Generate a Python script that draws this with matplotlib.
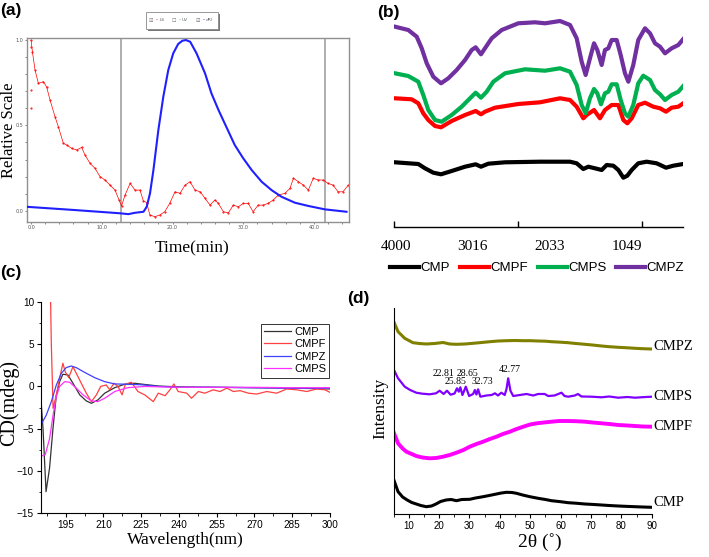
import matplotlib
matplotlib.use("Agg")
import matplotlib.pyplot as plt
from matplotlib.lines import Line2D
from matplotlib.patches import Rectangle

SERIF = "Liberation Serif"
SANS = "Liberation Sans"

# ---- (a) SEC-MALLS trace ----
ls_t = [0.0, 0.2, 0.57, 1.04, 1.74, 2.2, 2.69, 3.39, 3.86, 4.57, 5.04, 5.75, 6.46, 7.16, 7.63,
        8.34, 9.05, 9.75, 10.46, 11.17, 11.87, 12.44, 12.8, 13.29, 14.0, 14.7, 15.4, 15.87,
        16.35, 16.8, 17.5, 18.2, 18.9, 19.6, 20.35, 21.06, 21.77, 22.47, 23.18, 23.9, 24.6,
        25.3, 26.0, 26.47, 27.2, 27.9, 28.6, 29.3, 30.0, 30.7, 31.4, 32.1, 32.8, 33.5, 34.25,
        34.96, 35.9, 36.6, 37.1, 37.8, 38.5, 39.2, 39.9, 40.6, 41.3, 42.0, 42.7, 43.4, 44.1, 44.85]
ls_v = [1.0, 0.93, 0.824, 0.746, 0.756, 0.726, 0.648, 0.551, 0.492, 0.395, 0.385, 0.365, 0.356,
        0.371, 0.326, 0.278, 0.248, 0.2, 0.18, 0.15, 0.121, 0.063, 0.028, 0.092, 0.16, 0.121,
        0.121, 0.059, 0.047, -0.025, -0.035, -0.025, -0.006, 0.043, 0.111, 0.102, 0.15, 0.17,
        0.121, 0.111, 0.073, 0.033, 0.063, 0.043, -0.006, -0.012, 0.033, 0.023, 0.043, 0.043,
        -0.006, 0.033, 0.033, 0.043, 0.063, 0.092, 0.102, 0.131, 0.19, 0.17, 0.15, 0.121, 0.19,
        0.18, 0.18, 0.16, 0.15, 0.111, 0.111, 0.15]
ls_out_t = [0.0, 0.02, 0.05]
ls_out_v = [0.6, 0.71, 0.96]
dri_t = [-0.6, 6.2, 12.6, 13.75, 14.7, 15.9, 16.35, 16.82, 17.3, 18.0, 18.7, 19.4, 20.1, 20.8,
         21.4, 21.9, 22.5, 23.4, 24.6, 25.5, 26.5, 27.7, 28.8, 30.0, 31.2, 32.6, 34.0, 35.4,
         37.3, 39.2, 41.55, 44.6]
dri_v = [0.023, 0.004, -0.015, -0.02, -0.012, -0.006, 0.023, 0.102, 0.238, 0.473, 0.668, 0.824,
         0.922, 0.977, 0.996, 1.0, 0.99, 0.922, 0.805, 0.688, 0.59, 0.483, 0.385, 0.307, 0.238,
         0.17, 0.121, 0.082, 0.047, 0.028, 0.008, -0.006]
cut_lines = [12.76, 41.55]

# ---- (b) FT-IR ----
ir_ticks = [4000, 3016, 2033, 1049]
cmpz_w = [4013, 3843, 3735, 3671, 3607, 3523, 3424, 3331, 3224, 3117, 3032, 2981, 2913, 2862,
          2776, 2648, 2436, 2222, 2094, 1902, 1774, 1689, 1625, 1574, 1519, 1467, 1425, 1369,
          1327, 1284, 1241, 1177, 1126, 1071, 1028, 965, 901, 815, 751, 687, 623, 559, 474, 389, 325]
cmpz_v = [200.3, 197, 190.3, 178.7, 163.7, 150.3, 143.7, 148.7, 157, 167, 177, 179.7, 172.7,
          178.7, 188.7, 197, 203.7, 204.7, 203.7, 206, 202, 188.7, 165.3, 152, 168.7, 183.7, 177,
          162, 177, 178.7, 187, 187, 172, 153.7, 145.3, 162, 187, 198.7, 193.7, 183.7, 180.3,
          173.7, 178.7, 182, 188]
cmps_w = [4013, 3843, 3715, 3651, 3587, 3501, 3416, 3288, 3160, 3053, 2981, 2913, 2840, 2755,
          2606, 2350, 2094, 1902, 1774, 1689, 1625, 1574, 1519, 1467, 1425, 1378, 1327, 1284,
          1241, 1177, 1126, 1071, 1028, 965, 901, 837, 751, 687, 623, 559, 474, 389, 325]
cmps_v = [153.7, 151, 145.3, 132, 117, 107, 105.3, 112, 120.3, 128.7, 134.3, 129.3, 135.3,
          145.3, 153.7, 157.7, 156.3, 158.7, 155.3, 142, 122, 113.7, 128.7, 138, 133.7, 122.7,
          133.7, 135.3, 142.7, 142.7, 127, 113.7, 110.3, 122, 143.7, 151.3, 147, 137, 132.7,
          127, 132, 135.3, 141]
cmpf_w = [4013, 3800, 3715, 3651, 3587, 3501, 3424, 3288, 3117, 2981, 2913, 2862, 2734, 2436,
          2158, 1902, 1774, 1689, 1604, 1561, 1467, 1391, 1327, 1241, 1156, 1092, 1041, 985,
          901, 815, 709, 623, 546, 474, 389, 325]
cmpf_v = [128.7, 127.7, 123.7, 113.7, 107, 101, 99.7, 106, 112, 116, 112.7, 115.3, 119.3, 123,
          124.7, 128.7, 127, 120.3, 108.7, 112, 117, 108.7, 117, 122, 122, 107, 103.7, 108.7,
          122, 124.3, 120.3, 118.7, 115.3, 119.3, 120.3, 123.7]
cmp_w = [4013, 3715, 3629, 3523, 3424, 3288, 3117, 2981, 2913, 2819, 2606, 2158, 1774, 1689,
         1604, 1540, 1455, 1369, 1305, 1220, 1156, 1092, 1041, 985, 901, 794, 666, 546, 453, 325]
cmp_v = [64.7, 63, 58.7, 54.3, 52.7, 56, 60.3, 62.7, 60.3, 63.3, 64.7, 65.3, 65.3, 63.7, 58,
         60.3, 58.7, 57, 62, 61.3, 57, 49.3, 51.3, 57, 63.7, 65.3, 63.7, 59.3, 61.3, 63]

# ---- (c) CD spectra ----
cd_cmp_x = [185.1, 186.0, 187.2, 188.6, 189.95, 191.3, 192.6, 193.9, 195.9, 197.9, 200.6, 203.2,
            205.2, 207.8, 210.5, 214.5, 218.4, 222.4, 226, 232, 240, 255, 270, 285, 300]
cd_cmp_y = [-1.2, -5.0, -12.5, -9.7, -5.0, -1.0, 0.57, 1.45, 1.37, 0.38, -1.0, -1.72, -2.0,
            -1.6, -0.8, -0.14, 0.26, 0.38, 0.25, 0.05, -0.05, -0.1, -0.15, -0.2, -0.3]
cd_cmpf_x = [188.8, 189.3, 190.0, 191.3, 192.6, 193.9, 194.8, 196.2, 197.9, 199.2, 201.2, 203.2,
             205.2, 207.2, 208.9, 211.1, 212.5, 214.2, 215.8, 217.4, 218.7, 221.1, 223.7, 226.4,
             229.8, 231.8, 234.5, 236.4, 238.0, 239.7, 243.1, 245.0, 247.7, 250.3, 253.6, 256.3,
             259.0, 261.6, 264.3, 267.6, 270.9, 274.9, 278.8, 282.8, 286.8, 290.8, 294.7, 298.0,
             300]
cd_cmpf_y = [14, 5, -2.6, -1.0, 0.97, 2.76, 1.76, 1.05, 2.35, 1.57, 0.38, -0.8, -1.8, -1.0, 0.0,
             0.18, -0.4, 0.38, 0.0, -1.0, 0.26, 0.5, -0.6, -1.0, -1.8, -0.8, -1.1, -0.4, 0.3,
             -0.6, -0.8, -1.4, -0.6, -0.8, -0.4, -0.6, -0.2, -0.6, -0.5, -0.8, -0.9, -0.6, -0.8,
             -0.3, -0.4, -0.6, -0.3, -0.4, -0.7]
cd_cmpz_x = [185.1, 187.3, 189.3, 191.3, 193.3, 195.2, 197.2, 199.2, 202.5, 206.5, 210.5, 214.5,
             219.8, 225.0, 232, 240, 255, 270, 285, 300]
cd_cmpz_y = [-4.6, -3.4, -1.8, 0.18, 1.57, 2.24, 2.43, 2.24, 1.68, 1.05, 0.57, 0.3, 0.26, 0.2,
             0.0, -0.1, -0.1, -0.15, -0.2, -0.2]
cd_cmps_x = [185.1, 186.9, 188.6, 190.0, 191.3, 192.6, 194.6, 196.6, 199.2, 201.9, 205.2, 207.8,
             210.5, 214.5, 219.8, 226.4, 240, 255, 270, 285, 300]
cd_cmps_y = [-8.3, -8.1, -6.2, -3.4, -1.2, 0.0, 0.57, 0.5, -0.2, -1.0, -1.72, -1.8, -1.4, -0.6,
             -0.14, 0.0, -0.1, -0.1, -0.1, -0.15, -0.15]

# ---- (d) XRD ----
xz_x = [5, 6.5, 8.7, 11.4, 13.5, 15.8, 18.5, 21.3, 23.5, 25.7, 28.5, 31.2, 34, 36.7, 39.5, 42.2,
        45, 47.7, 50, 52.6, 55, 57, 60, 62.5, 65, 68, 70.5, 73.5, 76, 79, 82, 84.5, 87, 90]
xz_i = [193, 182.3, 175.7, 171.3, 170.5, 170, 170.5, 171.5, 170, 169.7, 170, 170.7, 171.5, 172.3,
        173, 173.3, 173.5, 173.3, 173.3, 173, 172.8, 172.3, 171.8, 171.3, 170.5, 169.7, 169, 168,
        167.3, 166.7, 166.2, 165.7, 165.3, 165]
xs_x = [5, 6.5, 8.7, 10.5, 12.5, 14.5, 16.9, 19.0, 20.2, 21.5, 22.6, 23.8, 25.1, 25.9, 26.5, 27.0,
        27.7, 28.8, 29.9, 31.2, 31.8, 32.3, 32.85, 33.6, 35.6, 37.3, 38.4, 39.4, 40.5, 41.6, 42.2,
        42.75, 43.5, 44.4, 46.6, 48.8, 51.0, 52.6, 54.8, 55.9, 58, 60.3, 61.3, 62.5, 64.7, 65.7,
        66.9, 70.2, 73.5, 76, 79.0, 82, 84.5, 87, 90]
xs_i = [145, 135.7, 127.3, 124, 121.3, 120.3, 119.7, 120.7, 123.3, 120, 123.3, 119.3, 120.5,
        125.7, 122.3, 126.7, 119, 127.3, 118, 120, 124, 119.5, 124.7, 117.3, 118.5, 119, 120.7,
        118.5, 121.3, 119, 125, 135.7, 123.3, 118, 119, 120, 118.5, 120, 120, 118, 118.5, 121.3,
        118, 117.3, 118.5, 120, 117.5, 117.3, 116.7, 117.5, 116.3, 117, 116.3, 116.8, 117.3]
xf_x = [5, 6.5, 8, 9.25, 11, 12.5, 14.5, 16.9, 19, 21.3, 23.5, 25.7, 28, 30.1, 32.3, 34.5, 36.7,
        38.9, 41, 43.3, 45.5, 47.7, 50, 52.1, 54.5, 57, 59.5, 62.5, 65, 68, 70.5, 73.5, 76, 79,
        82, 84.5, 87, 90]
xf_i = [82, 70.7, 65.5, 62.3, 60, 58, 56.5, 55.7, 56, 57.3, 59, 61.3, 64, 67.3, 70, 72.3, 75,
        77.3, 80, 82.3, 85, 87.3, 89.5, 90.7, 91.5, 92.3, 93, 93, 92.8, 92.3, 91.5, 90.7, 90, 89,
        88.5, 88, 87.5, 87.3]
xp_x = [5, 6.5, 8, 9.5, 11, 12.5, 14, 15.8, 17.5, 19, 20.5, 22.3, 24, 25.7, 27.5, 30.1, 32, 34.5,
        36.5, 38.9, 40.5, 42.2, 44, 45.5, 47.5, 49.9, 52.6, 55, 57, 60, 62.5, 65, 68, 71, 73.5,
        76, 79, 82, 84.5, 87, 90]
xp_i = [35, 22.3, 17, 14, 11.5, 10, 8.5, 7.3, 8, 10, 12.5, 14, 14.5, 13.3, 14.5, 14.7, 16, 17.3,
        18.5, 20, 21, 21.7, 21.5, 20.7, 19, 17.3, 15.7, 14.5, 13.3, 12.3, 11.3, 10.8, 10, 9.5, 9,
        8.5, 8, 7.6, 7.3, 7, 6.7]
peak_labels = ["22.81", "28.65", "25.85", "32.73", "42.77"]
peak_x = [21.5, 29.2, 25.5, 34.1, 43.3]
peak_y = [140, 140, 132, 132, 144]

W, H = 709, 557
fig = plt.figure(figsize=(W / 100, H / 100), dpi=100)


def px_axes(l, t, r, b):
    return fig.add_axes([l / W, 1 - b / H, (r - l) / W, (b - t) / H])


def ftext(x, y, s, **kw):
    fig.text(x / W, 1 - y / H, s, ha="center", va="center", **kw)


# (a)
axa = px_axes(27, 38, 349, 222)
for t in cut_lines:
    axa.axvline(t, color="#a8a8a8", lw=1.3, zorder=1)
axa.plot(ls_t, ls_v, color="red", lw=0.5, marker=".", ms=1.0, zorder=2)
axa.plot(ls_out_t, ls_out_v, ".", color="red", ms=1.0)
axa.plot(dri_t, dri_v, color="#2020ff", lw=1.5, zorder=3)
axa.set_xlim(-0.57, 44.95)
axa.set_ylim(-0.066, 1.012)
axa.set_xticks([0, 10, 20, 30, 40])
axa.set_xticklabels(["0.0", "10.0", "20.0", "30.0", "40.0"])
axa.set_xticks([i * 2 for i in range(23)], minor=True)
axa.set_yticks([0, 0.5, 1.0])
axa.set_yticklabels(["0.0", "0.5", "1.0"])
axa.set_yticks([i / 10 for i in range(11)], minor=True)
axa.tick_params(which="both", direction="out", length=1.5, width=0.5, labelsize=3.5,
                pad=1, colors="#555555")
for s in axa.spines.values():
    s.set_color("#909090")
    s.set_linewidth(1.0)
ftext(9, 130, "Relative Scale", family=SERIF, fontsize=12, rotation=90)
ftext(192, 248, "Time(min)", family=SERIF, fontsize=12.5)

# little legend box of the instrument software
fig.patches.append(Rectangle((148 / W, 1 - 31 / H), 72 / W, 17 / H, transform=fig.transFigure,
                             facecolor="#777777", edgecolor="none"))
fig.patches.append(Rectangle((146 / W, 1 - 29 / H), 72 / W, 17 / H, transform=fig.transFigure,
                             facecolor="white", edgecolor="#888888", lw=0.6))
for xx, name, col in [(157, "LS", "red"), (180, "UV", "#20c020"), (204, "dRI", "blue")]:
    ftext(xx - 6, 20, "\u2611" if name != "UV" else "\u2610", fontsize=3.5, color="#666666")
    ftext(xx, 20, "-", fontsize=4, color=col)
    ftext(xx + 5, 20, name, fontsize=3.2, color="#666666")

# (b)
axb = px_axes(394, 12, 683.3, 227)
axb.plot(cmp_w, cmp_v, color="black", lw=3, solid_joinstyle="round")
axb.plot(cmpf_w, cmpf_v, color="#ff0000", lw=3, solid_joinstyle="round")
axb.plot(cmps_w, cmps_v, color="#00b050", lw=3, solid_joinstyle="round")
axb.plot(cmpz_w, cmpz_v, color="#7030a0", lw=3, solid_joinstyle="round")
axb.set_xlim(4025.6, 325)
axb.set_ylim(0, 215)
for s in ["left", "right", "top"]:
    axb.spines[s].set_visible(False)
axb.spines["bottom"].set_linewidth(1.0)
axb.set_yticks([])
axb.set_xticks(ir_ticks)
axb.set_xticklabels([str(v) for v in ir_ticks], family=SERIF, fontsize=11)
axb.set_xticks([4025.6, 2436, 857], minor=True)
axb.tick_params(axis="x", which="major", length=0, pad=9)
axb.tick_params(axis="x", which="minor", direction="in", length=4, width=1)
handles = [Line2D([], [], color=c, lw=3) for c in ["black", "#ff0000", "#00b050", "#7030a0"]]
axb.legend(handles, ["CMP", "CMPF", "CMPS", "CMPZ"], ncol=4, loc="center",
           bbox_to_anchor=(537 / W, 1 - 268 / H), bbox_transform=fig.transFigure,
           frameon=False, handlelength=2.2, handletextpad=0.1, columnspacing=0.75,
           prop={"family": SANS, "size": 9.5}, borderpad=0)

# (c)
axc = px_axes(41, 302.3, 330, 512.7)
axc.plot(cd_cmp_x, cd_cmp_y, color="#333333", lw=0.9)
axc.plot(cd_cmpf_x, cd_cmpf_y, color="#ff4040", lw=0.9)
axc.plot(cd_cmpz_x, cd_cmpz_y, color="#4040ff", lw=0.9)
axc.plot(cd_cmps_x, cd_cmps_y, color="#ff30ff", lw=0.9)
axc.set_xlim(185.2, 300)
axc.set_ylim(-15, 10)
axc.set_xticks(list(range(195, 301, 15)))
axc.set_xticks([187.5 + 15 * i for i in range(8)], minor=True)
axc.set_yticks(list(range(-15, 11, 5)))
axc.set_yticks([-15 + 2.5 * i for i in range(11)], minor=True)
axc.tick_params(which="major", direction="out", length=3, width=0.8, labelsize=7.2, pad=2)
axc.tick_params(which="minor", direction="out", length=1.8, width=0.6)
for lab in axc.get_xticklabels() + axc.get_yticklabels():
    lab.set_family(SANS)
for s in ["right", "top"]:
    axc.spines[s].set_visible(False)
axc.legend(["CMP", "CMPF", "CMPZ", "CMPS"], loc="upper left",
           bbox_to_anchor=(255 / W, 1 - 318 / H), bbox_transform=fig.transFigure,
           fancybox=False, edgecolor="#333333", framealpha=1, handlelength=2.4,
           handletextpad=0.3, labelspacing=0.22, borderpad=0.3,
           prop={"family": SANS, "size": 8})
axc.get_legend().get_frame().set_linewidth(0.7)
ftext(9, 403, "CD(mdeg)", family=SERIF, fontsize=14.5, rotation=90)
ftext(185, 540, "Wavelength(nm)", family=SERIF, fontsize=12.5)

# (d)
axd = px_axes(393.5, 308, 651.7, 514)
axd.plot(xp_x, xp_i, color="black", lw=2.2)
axd.plot(xf_x, xf_i, color="#ff00ff", lw=2.8)
axd.plot(xs_x, xs_i, color="#8000ff", lw=1.6)
axd.plot(xz_x, xz_i, color="#808000", lw=2.2)
axd.set_xlim(5, 90)
axd.set_ylim(0, 206)
axd.set_yticks([])
axd.set_xticks(list(range(10, 91, 10)))
axd.set_xticks(list(range(5, 91, 5)), minor=True)
axd.tick_params(which="major", direction="out", length=3, width=0.8, labelsize=7, pad=2)
axd.tick_params(which="minor", direction="out", length=1.8, width=0.6)
for lab in axd.get_xticklabels():
    lab.set_family(SANS)
for s in ["right", "top"]:
    axd.spines[s].set_visible(False)
for name, yy in [("CMPZ", 167.3), ("CMPS", 118), ("CMPF", 88), ("CMP", 11.3)]:
    axd.text(90.5, yy, name, family=SERIF, fontsize=10.5, va="center", ha="left", clip_on=False)
for lab, xx, yy in zip(peak_labels, peak_x, peak_y):
    axd.text(xx, yy, lab, family=SERIF, fontsize=7, ha="center", va="center")
ftext(380, 408, "Intensity", family=SERIF, fontsize=12.5, rotation=90)
ftext(540, 542, "2\u03b8 (\u02da)", family=SERIF, fontsize=14)

# panel letters
for xx, yy, s in [(11, 11, "(a)"), (388, 12.5, "(b)"), (11, 272.5, "(c)"), (358, 299, "(d)")]:
    ftext(xx, yy, s, family=SANS, fontsize=12.5, fontweight="bold")

fig.savefig("out.png", dpi=100)
